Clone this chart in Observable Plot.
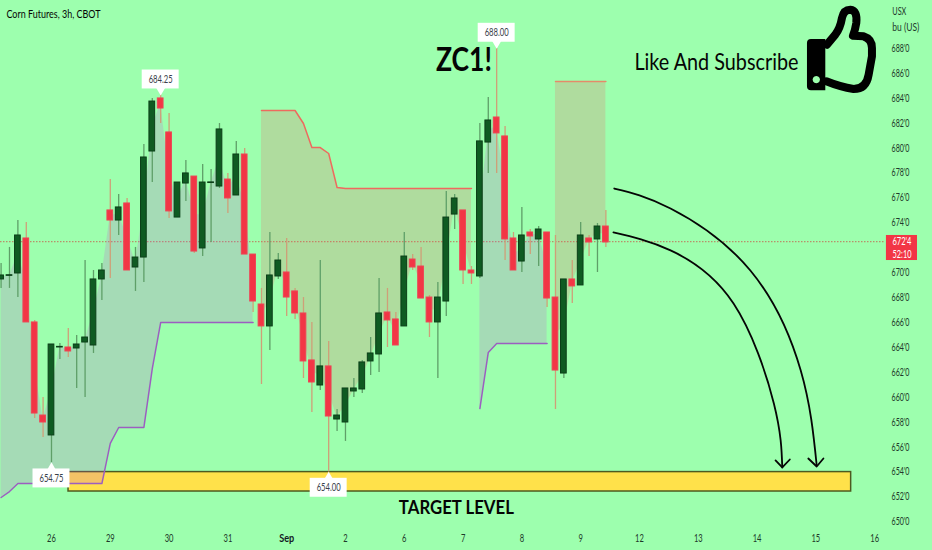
<!DOCTYPE html>
<html><head><meta charset="utf-8">
<script src="https://cdn.jsdelivr.net/npm/d3@7"></script>
<script src="https://cdn.jsdelivr.net/npm/@observablehq/plot@0.6"></script>
<style>html,body{margin:0;padding:0;background:#9dffae;overflow:hidden}svg{display:block}</style>
</head><body><div id="chart"></div>
<script>
const firstBar = -6;
const opens  = [669.46,669.75,669.94,672.75,666.01,658.54,656.94,664.0,664.0,663.92,664.4,664.16,669.46,675.0,674.19,675.56,670.42,671.22,679.73,683.99,681.26,674.43,677.16,677.72,671.95,677.2,676.92,677.48,676.2,679.49,671.46,667.45,665.69,669.7,670.02,668.5,666.73,662.96,660.95,662.48,658.22,657.98,660.47,660.63,662.88,663.44,666.81,666.25,665.69,671.06,670.5,668.01,666.01,667.69,674.67,675.0,670.18,669.7,680.45,682.46,680.94,672.75,670.9,673.23,672.67,673.23,668.01,661.91,669.46,668.98,672.75,672.67,673.71];
const highs  = [670.74,672.03,674.19,674.03,666.17,659.99,664.24,664.32,665.53,664.97,670.98,670.18,670.74,677.48,676.28,675.96,672.03,680.3,683.99,684.25,682.78,677.24,679.01,677.72,678.69,678.29,681.98,677.97,680.54,679.97,671.46,668.74,673.23,671.54,672.75,668.74,668.01,666.01,670.98,664.48,659.02,660.71,661.51,662.96,664.8,669.54,668.74,666.81,673.23,671.46,672.03,668.17,669.22,676.52,676.28,675.0,670.5,681.98,684.07,688.0,681.74,673.23,675.24,673.47,673.71,673.23,672.99,669.46,670.98,674.03,672.99,673.95,675.0];
const lows   = [668.74,668.74,668.01,666.01,658.3,656.78,654.75,663.04,663.2,660.71,659.99,663.52,667.77,669.54,672.99,670.18,668.5,669.22,677.24,681.98,674.35,674.43,675.72,671.54,671.3,672.43,676.76,674.76,676.2,671.46,666.81,661.03,663.76,669.46,666.49,666.25,661.51,658.78,660.55,654.0,657.26,656.46,659.99,660.31,661.75,661.99,664.0,664.16,665.69,670.18,667.93,664.8,661.51,666.49,673.47,669.06,669.06,669.54,677.97,677.97,670.98,670.18,670.02,671.46,670.5,667.21,659.02,661.51,667.53,668.98,671.3,670.02,672.03];
const closes = [669.78,669.8,672.99,666.01,658.7,657.98,664.24,664.05,663.68,664.24,664.8,669.46,670.18,674.19,675.24,670.18,671.22,679.25,683.74,683.18,674.92,677.24,677.97,671.7,677.24,677.25,681.5,675.96,679.49,671.46,667.69,665.69,669.78,670.98,668.01,666.73,662.88,661.19,662.48,658.46,658.54,660.71,660.71,662.8,663.52,666.73,666.17,664.16,671.3,670.42,667.93,666.01,668.01,674.43,675.96,670.18,669.94,680.54,682.22,681.18,672.67,670.18,672.99,672.91,673.47,667.93,662.15,669.46,668.9,672.99,672.43,673.71,672.43];

const purpleA = [651.96,652.44,653.08,653.08,653.08,653.08,653.08,653.08,653.08,653.08,653.08,653.08,653.08,656.3,657.58,657.58,657.58,657.58,662.3,666.01,666.01,666.01,666.01,666.01,666.01,666.01,666.01,666.01,666.01,666.01,666.01];
const redA    = [683.02,683.02,683.02,683.02,683.02,681.98,680.05,680.05,679.57,676.84,676.76,676.76,676.76,676.76,676.76,676.76,676.76,676.76,676.76,676.76,676.76,676.76,676.76,676.76,676.76,676.76];
const purpleB = [659.1,663.6,664.32,664.32,664.32,664.32,664.32,664.32,664.32];
const redB    = [685.35,685.35,685.35,685.35,685.35,685.35,685.35];

const dayTicks  = [0,7,14,21,35,42,49,56,63,70,77,84,91,98];
const dayLabels = ["26","29","30","31","2","6","7","8","9","12","13","14","15","16"];
const monthTick = [28], monthLabel = ["Sep"];
const priceTicks = [650,652,654,656,658,660,662,664,666,668,670,674,676,678,680,682,684,686,688];

const lastPrice = 672.5;
const targetZone = {x1:2.03, x2:95.2, y1:652.44, y2:654.0};

const labelBars   = [13,53,0,33];
const labelPrices = [684.25,688.0,654.75,654.0];
const labelTexts  = ["684.25","688.00","654.75","654.00"];
const labelSides  = [1,1,-1,-1];

const outerX = [67.0,73.7,83.2,89.2,91.1];
const outerY = [676.76,675.16,670.18,662.15,654.53];
const innerX = [66.9,73.7,81.2,86.0,87.0];
const innerY = [673.23,671.79,667.53,659.51,654.37];
const headOuterX = [90.1,91.1,91.9], headOuterY = [655.09,654.45,655.09];
const headInnerX = [86.2,87.0,87.9], headInnerY = [654.93,654.37,655.01];

const BG="#9dffae", GREEN="#0f5b22", GREEN_E="#0b3f18", RED="#f23645";
const FONT='Lato,"Liberation Sans",sans-serif';

const bars = opens.map((o,k)=>({i:firstBar+k,o,h:highs[k],l:lows[k],c:closes[k],up:closes[k]>=o,mid:(o+closes[k])/2}));
const barAt = i => bars[i-firstBar];
const seg = (vals,start)=>vals.map((t,k)=>({i:start+k,t,mid:barAt(start+k).mid}));
const segPA=seg(purpleA,-6), segRA=seg(redA,25), segPB=seg(purpleB,51), segRB=seg(redB,60);
const toPts=(xs,ys)=>xs.map((x,k)=>({x,y:ys[k]}));
const labels = labelBars.map((i,k)=>({i,p:labelPrices[k],t:labelTexts[k],s:labelSides[k]}));
const boldWords = [
 {x:49.1,y:687.03,t:"ZC1!",size:32},
 {x:48.2,y:651.16,t:"TARGET LEVEL",size:19.5}
];
const plainWords = [
 {x:69.4,y:686.87,t:"Like And Subscribe",size:24},
 {x:-5.36,y:690.75,t:"Corn Futures, 3h, CBOT",size:11.5}
];
const unitWords = [{x:100.1,y:690.95,t:"USX"},{x:100.1,y:689.65,t:"bu (US)"}];
const textWidths = {"ZC1!":56,"TARGET LEVEL":115,"Like And Subscribe":164,"Corn Futures, 3h, CBOT":94,"USX":14,"bu (US)":27,"672'4":19,"52:10":19,"684.25":24,"688.00":24,"654.75":24,"654.00":24,"Sep":15};

const thumb = (index,{x,y})=>{
  const g=d3.create("svg:g").attr("transform",`translate(${x(90)},${y(688.72)}) scale(0.3333) translate(-560,-118)`);
  g.append("path").attr("fill","#000").attr("fill-rule","evenodd")
   .attr("d","M572 118H615V272H572Q560 272 560 260V130Q560 118 572 118ZM588 229a11 11 0 1 0 .01 0Z");
  g.append("path").attr("fill","none").attr("stroke","#000").attr("stroke-width",24).attr("stroke-linejoin","round").attr("stroke-linecap","round")
   .attr("d","M620 135L645 105Q660 85 665 55Q670 30 690 30Q712 32 708 70Q705 90 698 108L730 110Q755 118 755 145L755 170L745 225Q738 268 700 268Q660 262 618 245");
  return g.node();
};
const area=(d,fill)=>Plot.areaY(d,{x:"i",y1:"t",y2:"mid",fill,fillOpacity:0.2,curve:"linear"});
const line=(d,stroke)=>Plot.line(d,{x:"i",y:"t",stroke,strokeWidth:1.5,curve:"linear"});

const plot = Plot.plot({
  width:932,height:550,marginLeft:0,marginTop:0,marginRight:47,marginBottom:15,
  style:{background:BG,fontFamily:FONT},
  x:{domain:[-6.07,99.29],axis:null},
  y:{domain:[648.91,691.85],axis:null},
  marks:[
    Plot.axisX(dayTicks,{anchor:"bottom",tickSize:0,tickPadding:-1,fontSize:10.5,label:null,tickFormat:(d)=>dayLabels[dayTicks.indexOf(d)],fill:"#1e3a2a"}),
    Plot.axisX(monthTick,{anchor:"bottom",tickSize:0,tickPadding:-1,fontSize:10.5,fontWeight:"bold",label:null,tickFormat:()=>monthLabel[0],fill:"#131722"}),
    Plot.axisY(priceTicks,{anchor:"right",tickSize:0,tickPadding:6,fontSize:10.5,label:null,tickFormat:d=>d+"'0",fill:"#1e3a2a"}),
    Plot.ruleY([lastPrice],{stroke:"#b8906a",strokeWidth:1.2,strokeDasharray:"1.5,1.5"}),
    Plot.rect([targetZone],{x1:"x1",x2:"x2",y1:"y1",y2:"y2",fill:"#ffe14a",stroke:"#4d5a20",strokeWidth:1.5}),
    area(segPA,"#ca4bd8"),area(segPB,"#ca4bd8"),area(segRA,"#fc5060"),area(segRB,"#fc5060"),
    line(segPA,"#9c5ec0"),line(segPB,"#9c5ec0"),line(segRA,"#ee6a5e"),line(segRB,"#e58a6a"),
    Plot.ruleX(bars,{filter:d=>d.up,x:"i",y1:"l",y2:"h",stroke:"#5f9f68",strokeWidth:1.3}),
    Plot.ruleX(bars,{filter:d=>!d.up,x:"i",y1:"l",y2:"h",stroke:"#cf9f78",strokeWidth:1.3}),
    Plot.rect(bars,{filter:d=>d.up,x1:d=>d.i-0.34,x2:d=>d.i+0.34,y1:"o",y2:"c",fill:GREEN,stroke:GREEN_E,strokeWidth:1}),
    Plot.rect(bars,{filter:d=>!d.up,x1:d=>d.i-0.34,x2:d=>d.i+0.34,y1:"o",y2:"c",fill:RED,stroke:"#ee4455",strokeWidth:1}),
    Plot.rect(labels,{x1:d=>d.i-2.2,x2:d=>d.i+2.2,y1:d=>d.p+d.s*0.5,y2:d=>d.p+d.s*2.02,fill:"white"}),
    Plot.dot(labels,{x:"i",y:d=>d.p+d.s*0.42,symbol:"triangle",r:3.6,fill:"white",rotate:d=>d.s>0?180:0}),
    Plot.text(labels,{x:"i",y:d=>d.p+d.s*1.26,text:"t",fontSize:11,fill:"#3a3f4a"}),
    Plot.line(toPts(outerX,outerY),{x:"x",y:"y",stroke:"#050505",strokeWidth:1.8,curve:"natural"}),
    Plot.line(toPts(innerX,innerY),{x:"x",y:"y",stroke:"#050505",strokeWidth:1.8,curve:"natural"}),
    Plot.line(toPts(headOuterX,headOuterY),{x:"x",y:"y",stroke:"#050505",strokeWidth:1.8}),
    Plot.line(toPts(headInnerX,headInnerY),{x:"x",y:"y",stroke:"#050505",strokeWidth:1.8}),
    Plot.text(boldWords,{x:"x",y:"y",text:"t",fontSize:d=>d.size,fontWeight:"bold",textAnchor:"middle",fill:"#050505"}),
    Plot.text(plainWords,{x:"x",y:"y",text:"t",fontSize:d=>d.size,textAnchor:"start",fill:"#050505"}),
    Plot.text(unitWords,{x:"x",y:"y",text:"t",fontSize:10.5,textAnchor:"start",fill:"#1e3a2a"}),
    Plot.rect([{x1:99.4,x2:103.1,y1:670.98,y2:672.99}],{x1:"x1",x2:"x2",y1:"y1",y2:"y2",fill:"#f23645"}),
    Plot.text([{x:101.25,y:672.5,t:"672'4"},{x:101.25,y:671.45,t:"52:10"}],{x:"x",y:"y",text:"t",fontSize:10.5,fill:"#fff"}),
    thumb
  ]
});
document.getElementById("chart").append(plot);
d3.select(plot).selectAll("text").each(function(){
  const s=this.textContent;
  let w=textWidths[s];
  if(w===undefined){ if(/'0$/.test(s)) w=18; else if(/^\d+$/.test(s)) w=s.length*4.4; }
  if(w){ this.setAttribute("textLength",w); this.setAttribute("lengthAdjust","spacingAndGlyphs"); }
});
</script></body></html>
